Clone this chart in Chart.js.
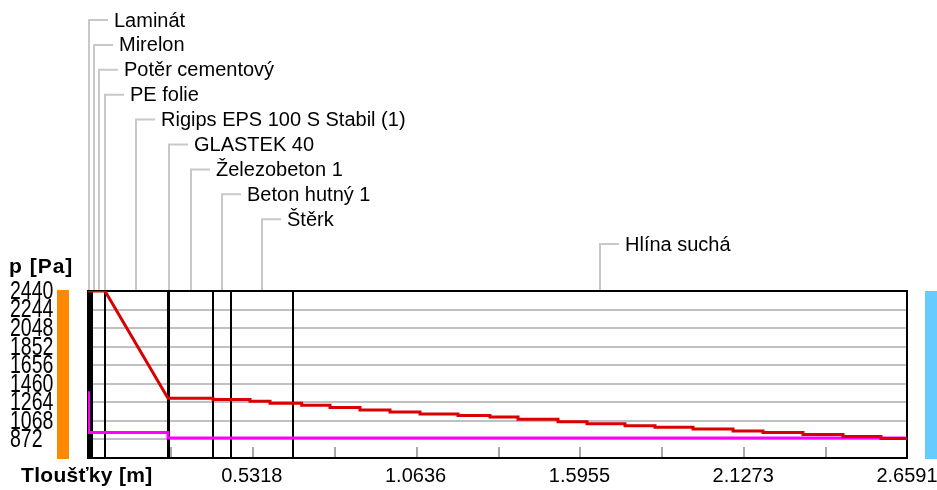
<!DOCTYPE html>
<html>
<head>
<meta charset="utf-8">
<script src="https://cdn.jsdelivr.net/npm/chart.js@4"></script>
<style>
  body { margin: 0; background: #fff; }
  #wrap { width: 937px; height: 490px; }
</style>
</head>
<body>
<div id="wrap"><canvas id="chart" width="937" height="490"></canvas></div>
<script>
// layers of the construction, left to right
const layerNames = ['Laminát', 'Mirelon', 'Potěr cementový', 'PE folie', 'Rigips EPS 100 S Stabil (1)',
    'GLASTEK 40', 'Železobeton 1', 'Beton hutný 1', 'Štěrk', 'Hlína suchá'];
const layerThickness = [0.008, 0.005, 0.042, 0.0002, 0.2045, 0.004, 0.142, 0.0585, 0.2014, 1.9935];

// axis ticks
const xTicks = [0, 0.2659, 0.5318, 0.7977, 1.0636, 1.3296, 1.5955, 1.8614, 2.1273, 2.3932, 2.6591];
const xLabels = ['', '', '0.5318', '', '1.0636', '', '1.5955', '', '2.1273', '', '2.6591'];
const pMin = 676;
const pTicks = [676, 872, 1068, 1264, 1460, 1656, 1852, 2048, 2244, 2440];

// red curve (saturated vapour pressure): straight part, then staircase
const redLineX = [0, 0.0552, 0.2597];
const redLineP = [2440, 2440, 1308];
const redStepX = [0.2597, 0.4058, 0.5260, 0.5909, 0.6938, 0.7857, 0.8831, 0.9805, 1.0779, 1.2013, 1.3052,
    1.3961, 1.5260, 1.6201, 1.7435, 1.8409, 1.9643, 2.0942, 2.1916, 2.3214, 2.4513, 2.5747, 2.6591];
const redStepP = [1308, 1294, 1276, 1255, 1234, 1210, 1183, 1163, 1142, 1126, 1109,
    1086, 1059, 1038, 1017, 1001, 983, 962, 945, 924, 903, 882];

// magenta curve (partial vapour pressure)
const magX = [0, 0.002, 0.2597, 0.2597, 2.6591];
const magP = [1382, 945, 945, 886, 886];

const FONT = '"Liberation Sans", Arial, sans-serif';

// build point lists
const redData = redLineX.map((x, i) => ({ x: x, y: redLineP[i] }));
redStepP.forEach((p, i) => {
    redData.push({ x: redStepX[i], y: p });
    redData.push({ x: redStepX[i + 1], y: p });
});
const magData = magX.map((x, i) => ({ x: x, y: magP[i] }));

// cumulative layer boundaries
const bounds = [0];
layerThickness.forEach(t => bounds.push(bounds[bounds.length - 1] + t));

const framePlugin = {
    id: 'frame',
    beforeDatasetsDraw(chart) {
        const { ctx, chartArea: a, scales: { x } } = chart;
        ctx.save();
        // layer boundaries
        ctx.strokeStyle = '#000';
        ctx.lineWidth = 2;
        bounds.slice(0, -1).forEach(b => {
            const px = Math.round(x.getPixelForValue(b));
            ctx.beginPath();
            ctx.moveTo(px, a.top);
            ctx.lineTo(px, a.bottom);
            ctx.stroke();
        });
        // small tick marks inside the plot
        ctx.strokeStyle = '#a8a8a8';
        xTicks.slice(1, -1).forEach(t => {
            const px = Math.round(x.getPixelForValue(t)) + 1;
            ctx.beginPath();
            ctx.moveTo(px, a.bottom);
            ctx.lineTo(px, a.bottom - 11);
            ctx.stroke();
        });
        // plot border
        ctx.strokeStyle = '#000';
        ctx.strokeRect(a.left, a.top, a.right - a.left, a.bottom - a.top);
        ctx.restore();
    },
    afterDraw(chart) {
        const { ctx, chartArea: a, scales: { x, y } } = chart;
        ctx.save();

        // interior / exterior colour bars
        ctx.fillStyle = '#ff8800';
        ctx.fillRect(a.left - 31, a.top - 1, 12, a.bottom - a.top + 2);
        ctx.fillStyle = '#66ccff';
        ctx.fillRect(a.right + 18, a.top, 12, a.bottom - a.top + 1);

        // y tick labels, condensed
        ctx.fillStyle = '#000';
        ctx.font = '25px ' + FONT;
        ctx.textAlign = 'left';
        ctx.textBaseline = 'middle';
        pTicks.filter(v => v !== pMin).forEach(v => {
            ctx.save();
            ctx.translate(10, y.getPixelForValue(v) + 1);
            ctx.scale(0.78, 1);
            ctx.fillText(String(v), 0, 0);
            ctx.restore();
        });

        // axis titles
        ctx.font = 'bold 21px ' + FONT;
        ctx.letterSpacing = '1px';
        ctx.fillText('p [Pa]', 9, 267);
        ctx.letterSpacing = '0.3px';
        ctx.fillText('Tloušťky [m]', 21, 476);
        ctx.letterSpacing = '0px';

        // layer labels with leader lines
        ctx.font = '20px ' + FONT;
        let prev = -100;
        layerNames.forEach((name, i) => {
            let cx = x.getPixelForValue((bounds[i] + bounds[i + 1]) / 2);
            cx = Math.round(Math.max(cx, prev + 5));
            prev = cx;
            const ly = 20 + i * 24.9;
            ctx.strokeStyle = '#c8c8c8';
            ctx.lineWidth = 2;
            ctx.beginPath();
            ctx.moveTo(cx, a.top - 1);
            ctx.lineTo(cx, ly);
            ctx.lineTo(cx + 19, ly);
            ctx.stroke();
            ctx.fillStyle = '#000';
            ctx.fillText(name, cx + 25, ly + 1);
        });
        ctx.restore();
    }
};

new Chart(document.getElementById('chart'), {
    type: 'line',
    data: {
        datasets: [
            {
                data: redData,
                borderColor: '#d80000',
                borderWidth: 3,
                pointRadius: 0,
                tension: 0
            },
            {
                data: magData,
                borderColor: '#ff00ff',
                borderWidth: 3,
                pointRadius: 0,
                tension: 0
            }
        ]
    },
    options: {
        responsive: false,
        animation: false,
        devicePixelRatio: 1,
        layout: { padding: { left: 0, right: 30, top: 291, bottom: 0 } },
        plugins: {
            legend: { display: false },
            tooltip: { enabled: false }
        },
        scales: {
            x: {
                type: 'linear',
                min: 0,
                max: 2.6591,
                grid: { display: false, drawTicks: false },
                border: { display: false },
                afterBuildTicks: s => { s.ticks = xTicks.map(v => ({ value: v })); },
                afterFit: s => { s.height = 32; s.paddingRight = 0; s.paddingLeft = 0; },
                ticks: {
                    autoSkip: false,
                    maxRotation: 0,
                    padding: 6,
                    color: '#000',
                    font: { family: FONT, size: 20 },
                    callback: (v, i) => xLabels[i]
                }
            },
            y: {
                min: pMin,
                max: 2440,
                afterBuildTicks: s => { s.ticks = pTicks.map(v => ({ value: v })); },
                afterFit: s => { s.width = 88; s.paddingTop = 0; s.paddingBottom = 0; },
                grid: { color: '#c0c0c0', lineWidth: 2, drawTicks: false },
                border: { display: false },
                ticks: { display: false }
            }
        }
    },
    plugins: [framePlugin]
});
</script>
</body>
</html>
